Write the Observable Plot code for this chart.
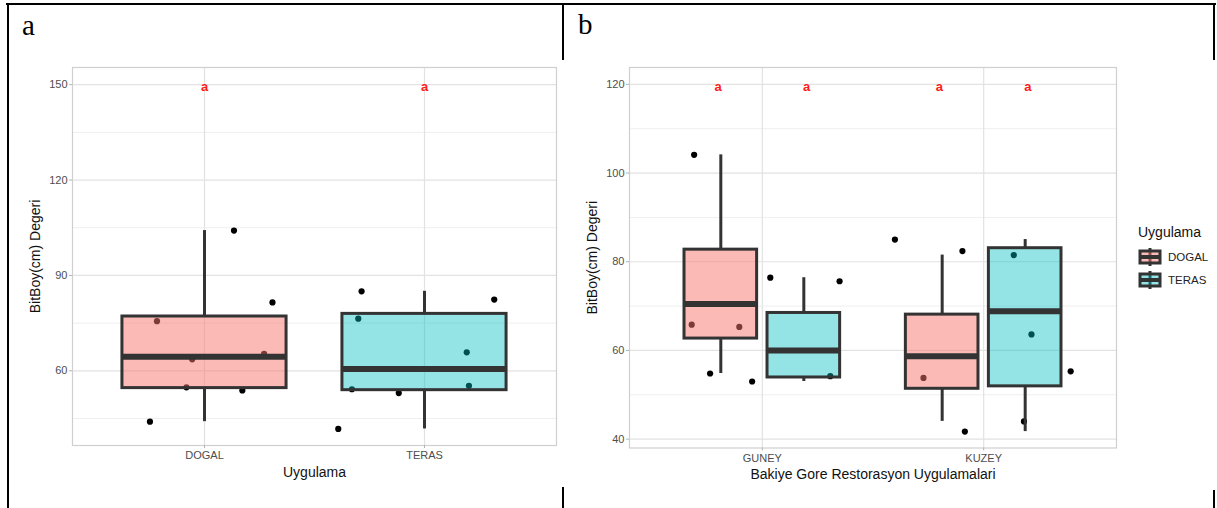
<!DOCTYPE html>
<html><head><meta charset="utf-8">
<script src="https://cdn.jsdelivr.net/npm/d3@7"></script>
<script src="https://cdn.jsdelivr.net/npm/@observablehq/plot@0.6"></script>
<style>
body{margin:0;background:#fff;}
#wrap{position:relative;width:1217px;height:508px;overflow:hidden;background:#fff;font-family:"Liberation Sans",Arial,sans-serif;}
#pa{position:absolute;left:10px;top:60px;}
#pb{position:absolute;left:566px;top:60px;}
#overlay{position:absolute;left:0;top:0;}
</style></head><body>
<div id="wrap">
  <div id="pa"></div>
  <div id="pb"></div>
  <svg id="overlay" width="1217" height="508"></svg>
</div>
<script>
// ---------- data ----------
const uygulama = ["DOGAL", "TERAS"];
const regions = ["GUNEY", "KUZEY"];
const fillColors = ["#F8766D", "#00BFC4"];
const fillAlpha = [0.5, 0.42];

// measured values (BitBoy cm) per treatment, with their region
const dogalValues  = [104.1, 65.3, 54.8, 75.6, 81.5, 63.6, 53.8, 44.0];
const dogalRegions = ["GUNEY","GUNEY","GUNEY","GUNEY","KUZEY","KUZEY","KUZEY","KUZEY"];
const terasValues  = [76.4, 65.8, 54.2, 53.0, 85.0, 82.4, 55.3, 41.7];
const terasRegions = ["GUNEY","GUNEY","GUNEY","GUNEY","KUZEY","KUZEY","KUZEY","KUZEY"];

// horizontal jitter (category units)
const dogalJitterA = [0.134, 0.271, -0.082, -0.216, 0.309, -0.056, 0.172, -0.248];
const terasJitterA = [-0.301, 0.192, -0.330, -0.117, -0.286, 0.317, 0.202, -0.392];
const dogalJitterB = [-0.308, -0.104, -0.236, 0.349, 0.136, 0.216, -0.272, 0.182];
const terasJitterB = [0.036, -0.319, 0.307, -0.046, -0.401, -0.096, 0.393, -0.085];

// significance letters
const lettersA = ["a", "a"];
const lettersB = ["a", "a", "a", "a"];
const letterYA = 150;
const letterYB = 120;

// axis ticks
const ticksA = [60, 90, 120, 150];
const minorA = [45, 75, 105, 135];
const ticksB = [40, 60, 80, 100, 120];
const minorB = [50, 70, 90, 110];

// ---------- helpers ----------
function boxStats(vals) {
  const s = vals.slice().sort(d3.ascending);
  const q1 = d3.quantile(s, 0.25), med = d3.quantile(s, 0.5), q3 = d3.quantile(s, 0.75);
  const iqr = q3 - q1;
  const lo = d3.min(s.filter(v => v >= q1 - 1.5 * iqr));
  const hi = d3.max(s.filter(v => v <= q3 + 1.5 * iqr));
  return {q1, med, q3, lo, hi};
}
const valuesBy = {DOGAL: dogalValues, TERAS: terasValues};
const regionsBy = {DOGAL: dogalRegions, TERAS: terasRegions};

// panel a data
const pointsA = [];
uygulama.forEach((g, gi) => {
  const jit = g === "DOGAL" ? dogalJitterA : terasJitterA;
  valuesBy[g].forEach((v, i) => pointsA.push({g, v, x: gi + 1 + jit[i]}));
});
const halfA = 0.373;
const statsA = uygulama.map((g, gi) => ({g, x: gi + 1, x1: gi + 1 - halfA, x2: gi + 1 + halfA,
  fill: fillColors[gi], alpha: fillAlpha[gi], letter: lettersA[gi], lx: gi + 1, ...boxStats(valuesBy[g])}));

// panel b data
const pointsB = [];
uygulama.forEach((g) => {
  const jit = g === "DOGAL" ? dogalJitterB : terasJitterB;
  valuesBy[g].forEach((v, i) => pointsB.push({g, r: regionsBy[g][i], v, x: regions.indexOf(regionsBy[g][i]) + 1 + jit[i]}));
});
const dodge = 0.1875, halfB = 0.164, letterDodge = 0.2;
const statsB = [];
regions.forEach((r, ri) => uygulama.forEach((g, gi) => {
  const vals = valuesBy[g].filter((v, i) => regionsBy[g][i] === r);
  const cx = ri + 1 + (gi === 0 ? -dodge : dodge);
  statsB.push({g, r, x: cx, x1: cx - halfB, x2: cx + halfB, fill: fillColors[gi], alpha: fillAlpha[gi],
    letter: lettersB[ri * 2 + gi], lx: ri + 1 + (gi === 0 ? -letterDodge : letterDodge), ...boxStats(vals)});
}));

const BOX = "#333333";
const font = "'Liberation Sans', Arial, sans-serif";

function panel({points, stats, ticks, minor, domainY, cats, letterY, width, height, ml, mr, mt, mb, xTitle}) {
  return Plot.plot({
    width, height, marginLeft: ml, marginRight: mr, marginTop: mt, marginBottom: mb,
    style: {fontFamily: font, background: "transparent"},
    x: {type: "linear", domain: [0.4, 2.6], axis: null},
    y: {domain: domainY, axis: null},
    marks: [
      Plot.gridY(minor, {stroke: "#EFEFEF", strokeOpacity: 1, strokeWidth: 1}),
      Plot.gridY(ticks, {stroke: "#E2E2E2", strokeOpacity: 1, strokeWidth: 1.2}),
      Plot.gridX([1, 2], {stroke: "#E2E2E2", strokeOpacity: 1, strokeWidth: 1.2}),
      Plot.dot(points, {x: "x", y: "v", r: 3.1, fill: "black", stroke: "none"}),
      Plot.ruleX(stats, {x: "x", y1: "q3", y2: "hi", stroke: BOX, strokeWidth: 3}),
      Plot.ruleX(stats, {x: "x", y1: "lo", y2: "q1", stroke: BOX, strokeWidth: 3}),
      Plot.rect(stats, {x1: "x1", x2: "x2", y1: "q1", y2: "q3", fill: "fill", fillOpacity: "alpha", stroke: BOX, strokeWidth: 3}),
      Plot.ruleY(stats, {x1: "x1", x2: "x2", y: "med", stroke: BOX, strokeWidth: 6}),
      Plot.text(stats, {x: "lx", y: () => letterY, text: "letter", fill: "#FF1A1A", fontWeight: "bold", fontSize: 13, dy: 2}),
      Plot.frame({stroke: "#CFCFCF", strokeWidth: 1.2}),
      Plot.axisY(ticks, {tickSize: 3, tickPadding: 2, stroke: "#B3B3B3", fill: "#4D4D4D", fontSize: 11, label: null}),
      Plot.axisX([1, 2], {tickSize: 3, tickPadding: 3, stroke: "#B3B3B3", fill: "#4D4D4D", fontSize: 11, label: null,
        tickFormat: d => cats[d - 1]}),
      Plot.text([xTitle], {frameAnchor: "bottom", dy: 27, fontSize: 14, fill: "#111", lineAnchor: "middle"}),
      Plot.text(["BitBoy(cm) Degeri"], {frameAnchor: "left", dx: -37, rotate: -90, fontSize: 14, fill: "#111", lineAnchor: "middle", textAnchor: "middle"})
    ]
  });
}

document.getElementById("pa").append(panel({
  points: pointsA, stats: statsA, ticks: ticksA, minor: minorA, domainY: [36.5, 155.4], cats: uygulama,
  letterY: letterYA, width: 550, height: 427, ml: 62, mr: 4, mt: 7, mb: 42, xTitle: "Uygulama"
}));
document.getElementById("pb").append(panel({
  points: pointsB, stats: statsB, ticks: ticksB, minor: minorB, domainY: [38, 123.8], cats: regions,
  letterY: letterYB, width: 647, height: 427, ml: 63, mr: 97, mt: 7, mb: 39.5,
  xTitle: "Bakiye Gore Restorasyon Uygulamalari"
}));

// ---------- overlay: borders, panel letters, legend ----------
const ov = d3.select("#overlay");
const line = (x1, y1, x2, y2) => ov.append("line").attr("x1", x1).attr("y1", y1).attr("x2", x2).attr("y2", y2)
  .attr("stroke", "#000").attr("stroke-width", 2);
line(6, 4, 1216, 4);
line(8, 3, 8, 508);
line(563, 3, 563, 60);
line(563, 487, 563, 508);
line(1214, 3, 1214, 60);
line(1214, 490, 1214, 508);
ov.append("text").attr("x", 22).attr("y", 35).attr("font-family", "'Liberation Serif','Times New Roman',serif")
  .attr("font-size", 29).text("a");
ov.append("text").attr("x", 578).attr("y", 34).attr("font-family", "'Liberation Serif','Times New Roman',serif")
  .attr("font-size", 29).text("b");

// legend
const lg = ov.append("g").attr("font-family", font);
lg.append("text").attr("x", 1138).attr("y", 237).attr("font-size", 14).attr("fill", "#111").text("Uygulama");
uygulama.forEach((g, i) => {
  const cy = 257 + i * 23, x0 = 1140, x1 = 1160, cx = (x0 + x1) / 2;
  lg.append("line").attr("x1", cx).attr("x2", cx).attr("y1", cy - 9).attr("y2", cy + 9).attr("stroke", BOX).attr("stroke-width", 3);
  lg.append("rect").attr("x", x0).attr("y", cy - 6).attr("width", x1 - x0).attr("height", 12)
    .attr("fill", fillColors[i]).attr("fill-opacity", fillAlpha[i]).attr("stroke", BOX).attr("stroke-width", 3);
  lg.append("line").attr("x1", x0).attr("x2", x1).attr("y1", cy).attr("y2", cy).attr("stroke", BOX).attr("stroke-width", 4);
  lg.append("text").attr("x", 1168).attr("y", cy + 4).attr("font-size", 11.5).attr("fill", "#222").text(g);
});
</script>
</body></html>
